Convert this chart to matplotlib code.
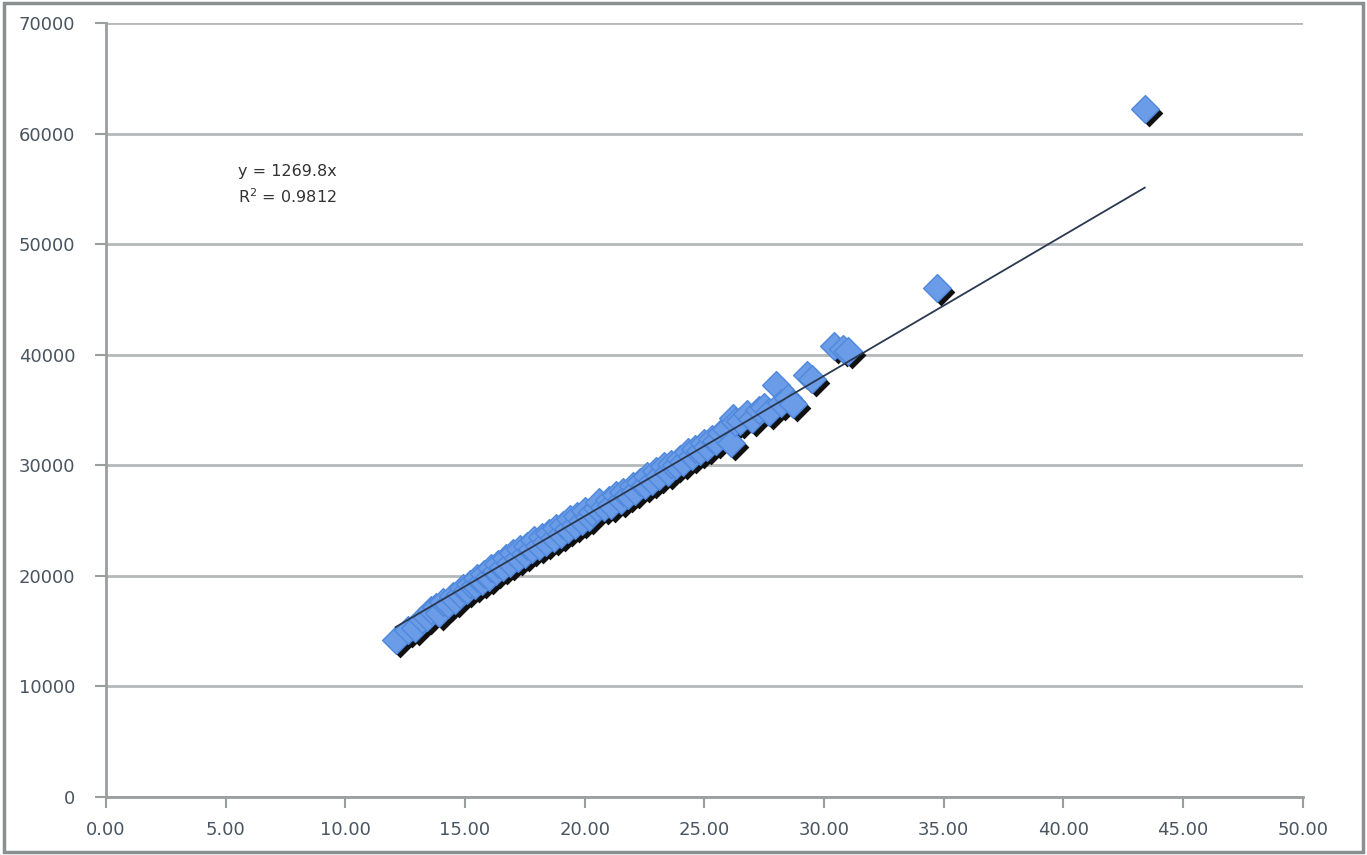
import matplotlib
matplotlib.use("Agg")
import matplotlib.pyplot as plt
import matplotlib.transforms as mtransforms
from matplotlib.patches import Rectangle

# Values (x = rate, y = amount)
x_vals = [12.1, 12.6, 12.9, 13.2, 13.4, 13.6, 13.8, 13.9, 14.1, 14.3,
          14.5, 14.6, 14.8, 14.9, 15.1, 15.2, 15.4, 15.5, 15.7, 15.8,
          16.0, 16.1, 16.3, 16.4, 16.6, 16.7, 16.9, 17.0, 17.2, 17.3,
          17.5, 17.6, 17.8, 17.9, 18.1, 18.2, 18.4, 18.5, 18.7, 18.8,
          19.0, 19.1, 19.3, 19.4, 19.6, 19.7, 19.9, 20.0, 20.2, 20.3,
          20.5, 20.6, 20.8, 21.0, 21.1, 21.3, 21.5, 21.6, 21.8, 22.0,
          22.1, 22.3, 22.5, 22.6, 22.8, 23.0, 23.1, 23.3, 23.5, 23.6,
          23.8, 24.0, 24.1, 24.3, 24.5, 24.6, 24.8, 25.0, 25.1, 25.3,
          25.5, 25.7, 25.9, 26.1, 26.2, 26.3, 26.5, 26.8, 27.0, 27.3,
          27.5, 27.7, 28.0, 28.2, 28.5, 28.7, 29.3, 29.5, 30.4, 30.8,
          31.0, 34.7, 43.4]
y_vals = [14200, 15100, 15300, 16100, 16300, 16900, 17200, 16600, 17600, 17500,
          18200, 17800, 18400, 18900, 18700, 19300, 19200, 19800, 19500, 20200,
          19900, 20700, 20400, 21100, 20800, 21600, 21200, 22100, 21600, 22400,
          22000, 22700, 22400, 23200, 22700, 23500, 23100, 23900, 23400, 24300,
          23800, 24600, 24200, 25100, 24600, 25400, 25000, 25900, 25300, 25800,
          26100, 26700, 26200, 26900, 26400, 27300, 26900, 27600, 27300, 28100,
          27700, 28500, 28200, 29000, 28600, 29500, 29000, 29900, 29400, 30100,
          30000, 30600, 30300, 31200, 30800, 31500, 31300, 32000, 31700, 32400,
          32200, 32900, 33300, 32000, 34300, 33900, 34000, 34600, 34200, 35000,
          35300, 34800, 37300, 35600, 36100, 35500, 38200, 37800, 40800, 40500,
          40300, 46000, 62200]

slope = 1269.8
r_squared = 0.9812
x_ticks = [0, 5, 10, 15, 20, 25, 30, 35, 40, 45, 50]
y_ticks = [0, 10000, 20000, 30000, 40000, 50000, 60000, 70000]

fig = plt.figure(figsize=(13.67, 8.55), dpi=100)
ax = fig.add_axes([0.0775, 0.0678, 0.8755, 0.9053])

# outer chart border
fig.patches.append(Rectangle((0.003, 0.004), 0.994, 0.992, transform=fig.transFigure,
                             fill=False, edgecolor="#8a8f8f", linewidth=2.5))

# horizontal gridlines
ax.yaxis.grid(True, color="#b4b8b8", linewidth=2)
ax.set_axisbelow(True)

# markers with a dark drop shadow like Excel
shadow = mtransforms.offset_copy(ax.transData, fig=fig, x=4, y=-4, units="dots")
ax.scatter(x_vals, y_vals, marker="D", s=200, color="#111111", transform=shadow,
           zorder=2, linewidths=0)
ax.scatter(x_vals, y_vals, marker="D", s=200, facecolor="#6a9ce8", edgecolor="#5088dc",
           linewidths=1, zorder=3)

# trendline through the origin
x_line = [min(x_vals), max(x_vals)]
y_line = [slope * v for v in x_line]
ax.plot(x_line, y_line, color="#2a3850", linewidth=1.3, zorder=4)

# equation label (figure coords, right aligned like Excel's label box)
fig.text(337 / 1367, 1 - 185 / 855, f"y = {slope}x\nR$^2$ = {r_squared}",
         ha="right", va="center", fontsize=11.5, color="#333333", linespacing=1.5)

ax.set_xlim(0, 50)
ax.set_ylim(0, 70000)
ax.set_xticks(x_ticks)
ax.set_xticklabels([f"{t:.2f}" for t in x_ticks])
ax.set_yticks(y_ticks)
ax.set_yticklabels([str(t) for t in y_ticks])

for side in ["top", "right"]:
    ax.spines[side].set_visible(False)
for side in ["left", "bottom"]:
    ax.spines[side].set_color("#9a9e9e")
    ax.spines[side].set_linewidth(2)

ax.tick_params(axis="both", direction="out", length=8, width=1.5, color="#9a9e9e",
               labelsize=13, labelcolor="#4a5560")
ax.tick_params(axis="y", pad=14)
ax.tick_params(axis="x", pad=9)

fig.savefig("out.png", dpi=100, facecolor="white")
